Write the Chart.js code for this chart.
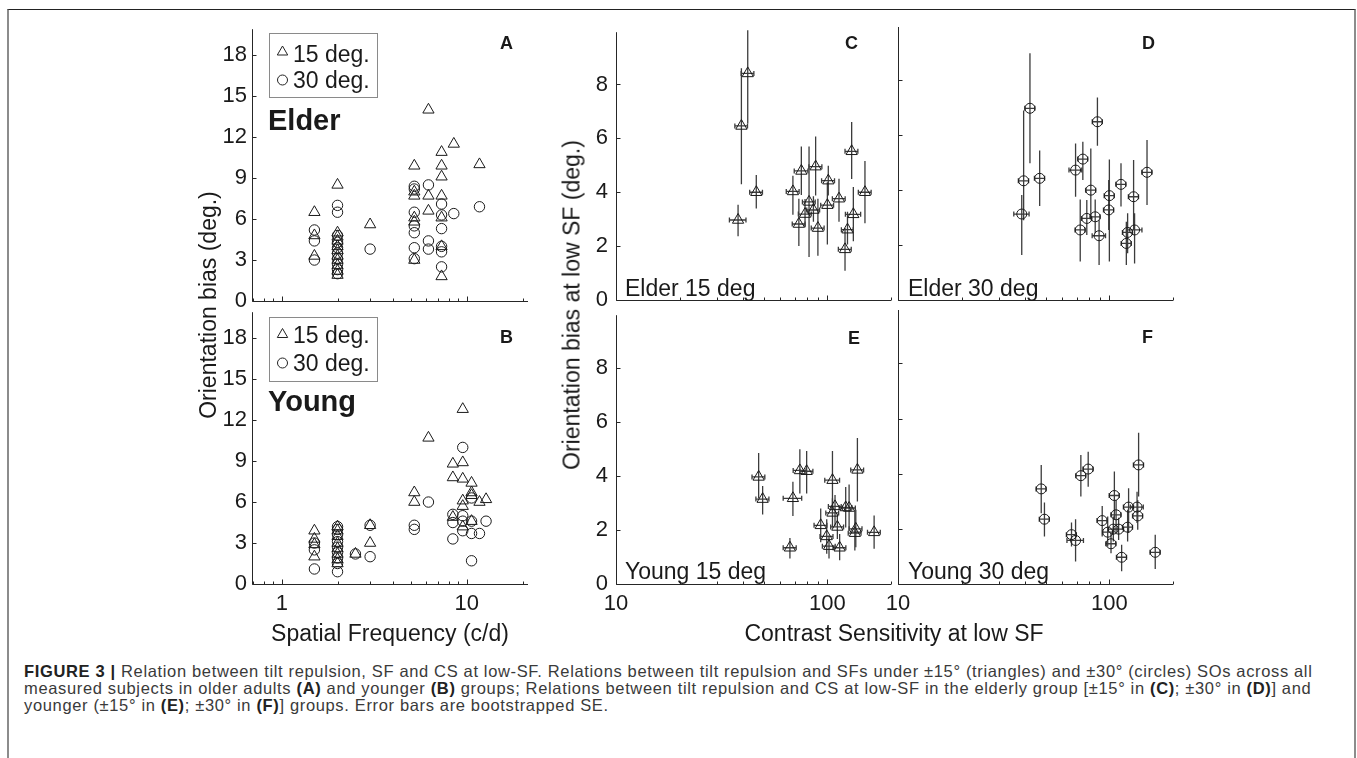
<!DOCTYPE html>
<html><head><meta charset="utf-8">
<script src="https://cdn.jsdelivr.net/npm/chart.js@4.4.1/dist/chart.umd.min.js"></script>
<style>
html,body{margin:0;padding:0;background:#fff;width:1357px;height:758px;overflow:hidden;font-family:"Liberation Sans",Arial,sans-serif;color:#1a1a1a;}
.t{position:absolute;white-space:nowrap;line-height:1;}
canvas{position:absolute;}
svg{position:absolute;overflow:visible;}
</style></head><body>
<div style="position:absolute;left:7px;top:9px;width:1345px;height:760px;border-left:2px solid #8c8c8c;border-right:2px solid #8c8c8c;border-top:1px solid #222;"></div>

<canvas id="cA"></canvas><canvas id="cB"></canvas><canvas id="cC"></canvas>
<canvas id="cD"></canvas><canvas id="cE"></canvas><canvas id="cF"></canvas>

<!-- legends -->
<div style="position:absolute;left:269px;top:33px;width:107px;height:63px;border:1px solid #8a8a8a;"></div>
<div style="position:absolute;left:269px;top:317px;width:107px;height:63px;border:1px solid #8a8a8a;"></div>
<svg style="left:0;top:0" width="1" height="1">
  <polygon points="282.5,46 277.3,55 287.7,55" fill="none" stroke="#222" stroke-width="1"/>
  <circle cx="282.5" cy="80" r="5" fill="none" stroke="#222" stroke-width="1"/>
  <polygon points="282.5,328.5 277.3,337.5 287.7,337.5" fill="none" stroke="#222" stroke-width="1"/>
  <circle cx="282.5" cy="363" r="5" fill="none" stroke="#222" stroke-width="1"/>
</svg>
<div class="t" style="left:293px;top:42.5px;font-size:23px;">15 deg.</div>
<div class="t" style="left:293px;top:68.5px;font-size:23px;">30 deg.</div>
<div class="t" style="left:293px;top:323.5px;font-size:23px;">15 deg.</div>
<div class="t" style="left:293px;top:352px;font-size:23px;">30 deg.</div>

<div class="t" style="left:268px;top:105.5px;font-size:29px;font-weight:bold;">Elder</div>
<div class="t" style="left:268px;top:387px;font-size:29px;font-weight:bold;">Young</div>

<div class="t" style="left:500px;top:34px;font-size:18px;font-weight:bold;">A</div>
<div class="t" style="left:500px;top:328px;font-size:18px;font-weight:bold;">B</div>
<div class="t" style="left:845px;top:34px;font-size:18px;font-weight:bold;">C</div>
<div class="t" style="left:1142px;top:34px;font-size:18px;font-weight:bold;">D</div>
<div class="t" style="left:848px;top:329px;font-size:18px;font-weight:bold;">E</div>
<div class="t" style="left:1142px;top:328px;font-size:18px;font-weight:bold;">F</div>

<div class="t" style="left:625px;top:276.5px;font-size:23px;">Elder 15 deg</div>
<div class="t" style="left:908px;top:276.5px;font-size:23px;">Elder 30 deg</div>
<div class="t" style="left:625px;top:559.5px;font-size:23px;">Young 15 deg</div>
<div class="t" style="left:908px;top:559.5px;font-size:23px;">Young 30 deg</div>

<div class="t" style="left:390px;top:621.5px;font-size:23px;transform:translateX(-50%);">Spatial Frequency (c/d)</div>
<div class="t" style="left:894px;top:621.5px;font-size:23px;transform:translateX(-50%);">Contrast Sensitivity at low SF</div>
<div class="t" style="left:208px;top:305px;font-size:23px;transform:translate(-50%,-50%) rotate(-90deg);">Orientation bias (deg.)</div>
<div class="t" style="left:572px;top:305px;font-size:23px;transform:translate(-50%,-50%) rotate(-90deg);">Orientation bias at low SF (deg.)</div>

<div style="position:absolute;left:24px;top:662.6px;font-size:16.5px;letter-spacing:0.65px;line-height:17.4px;color:#3a3a3a;white-space:nowrap;">
<b style="color:#222">FIGURE 3 |</b> Relation between tilt repulsion, SF and CS at low-SF. Relations between tilt repulsion and SFs under ±15° (triangles) and ±30° (circles) SOs across all<br>
measured subjects in older adults <b style="color:#222">(A)</b> and younger <b style="color:#222">(B)</b> groups; Relations between tilt repulsion and CS at low-SF in the elderly group [±15° in <b style="color:#222">(C)</b>; ±30° in <b style="color:#222">(D)</b>] and<br>
younger (±15° in <b style="color:#222">(E)</b>; ±30° in <b style="color:#222">(F)</b>] groups. Error bars are bootstrapped SE.
</div>

<script>
// ---------------- DATA ----------------
// Panel A (Elder): spatial frequency (c/d) vs orientation bias (deg.)
const A_tri_sf   = [1.5,1.5,1.5, 2,2,2,2,2,2,2,2,2,2,2, 3, 5.2,5.2,5.2,5.2,5.2,5.2, 6.2,6.2,6.2, 7.3,7.3,7.3,7.3,7.3,7.3,7.3, 8.5, 11.7];
const A_tri_bias = [6.5,4.8,3.3, 8.5,5.0,4.7,4.4,4.0,3.7,3.3,3.0,2.6,2.2,1.9, 5.6, 9.9,8.0,7.7,6.1,5.8,3.0, 14.0,7.7,6.6, 10.9,9.9,9.1,7.7,6.1,4.0,1.8, 11.5, 10.0];
const A_cir_sf   = [1.5,1.5,1.5, 2,2,2,2,2,2,2,2,2,2, 3, 5.2,5.2,5.2,5.2,5.2,5.2,5.2, 6.2,6.2,6.2, 7.3,7.3,7.3,7.3,7.3,7.3, 8.5, 11.7];
const A_cir_bias = [5.2,4.4,3.0, 7.0,6.5,4.8,4.3,3.9,3.5,3.1,2.7,2.3,2.0, 3.8, 8.4,8.2,6.5,5.5,5.0,3.9,3.1, 8.5,4.4,3.8, 7.1,6.3,5.3,4.0,3.6,2.5, 6.4, 6.9];
// Panel B (Young)
const B_tri_sf   = [1.5,1.5,1.5,1.5, 2,2,2,2,2,2,2,2, 2.5, 3,3, 5.2,5.2, 6.2, 8.4,8.4,8.4, 9.5,9.5,9.5,9.5,9.5,9.5, 10.6,10.6,10.6,10.6, 11.7, 12.7];
const B_tri_bias = [3.9,3.3,2.9,2.0, 4.2,3.9,3.5,3.0,2.6,2.2,1.8,1.5, 2.2, 4.3,3.0, 6.7,6.0, 10.7, 8.8,7.8,4.9, 12.8,8.9,7.7,6.1,5.7,4.2, 7.4,6.7,6.5,4.6, 6.0, 6.2];
const B_cir_sf   = [1.5,1.5,1.5, 2,2,2,2,2,2,2,2,2, 2.5, 3,3, 5.2,5.2, 6.2, 8.4,8.4,8.4, 9.5,9.5,9.5,9.5, 10.6,10.6,10.6,10.6, 11.7, 12.7];
const B_cir_bias = [3.0,2.5,1.1, 4.2,4.0,3.6,3.1,2.7,2.3,1.9,1.5,0.9, 2.2, 4.3,2.0, 4.3,4.0, 6.0, 5.1,4.5,3.3, 10.0,5.0,4.6,3.9, 6.3,4.6,3.7,1.7, 3.7, 4.6];

// Panel C (Elder 15 deg): contrast sensitivity vs bias, with bootstrapped SE
const C_cs   = [37.8,39.2,42.0,46.1,68.7,73.3,75.3,78.4,81.9,85.9,88.0,90.2,100,101,113.5,121.2,124.5,130.3,132.7,150.6];
const C_bias = [2.97,6.46,8.41,4.0,4.03,2.82,4.79,3.19,3.64,3.34,4.95,2.67,3.52,4.43,3.76,1.88,2.61,5.52,3.18,4.0];
const C_lo   = [2.37,4.3,6.55,3.4,3.16,2.0,3.9,2.7,1.6,2.9,3.88,1.64,2.06,3.88,2.9,1.09,2.06,4.49,2.18,2.85];
const C_hi   = [3.54,8.6,10.3,4.64,4.61,3.76,5.7,3.75,5.7,3.85,6.07,3.76,4.37,4.98,4.5,2.67,3.28,6.61,4.19,5.16];
const C_csErr= [3.4,2.7,2.9,3.2,4.8,5.1,5.6,5.5,5.7,6.0,6.2,6.3,7.0,7.1,7.9,8.5,8.0,9.1,11.0,10.5];
// Panel D (Elder 30 deg)
const D_cs   = [38.5,39.3,42.1,46.8,69.2,72.8,74.9,78.2,81.7,85.7,87.8,89.4,99.3,100,113.5,120.3,122,130.2,131.6,150.7];
const D_bias = [3.13,4.34,6.98,4.43,4.73,2.55,5.13,2.97,4.0,3.03,6.49,2.34,3.28,3.80,4.21,2.06,2.46,3.76,2.55,4.65];
const D_lo   = [1.64,2.9,4.98,3.42,3.76,1.40,4.37,2.37,3.03,2.43,5.62,1.27,2.55,1.40,3.4,1.27,1.70,2.55,1.33,3.46];
const D_hi   = [3.82,6.9,8.98,5.44,5.7,3.66,5.76,3.64,5.52,3.66,7.37,2.91,4.37,5.12,4.98,2.85,3.16,5.1,3.16,5.83];
const D_csErr= [3.2,2.2,2.3,2.6,4.8,4.0,4.1,4.3,4.5,4.7,4.8,6.5,5.5,5.5,6.2,6.6,6.7,7.2,11.0,8.3];
// Panel E (Young 15 deg)
const E_cs   = [47.3,49.4,66.5,68.7,74.1,79.8,93.0,99.3,101.8,105.7,105.7,108.7,111.5,114.3,122.1,126.7,134.9,136.3,138.7,166.4];
const E_bias = [3.96,3.14,1.34,3.17,4.2,4.17,2.17,1.76,1.40,3.84,2.63,2.87,2.11,1.34,2.83,2.81,1.88,2.04,4.22,1.91];
const E_lo   = [3.17,2.57,0.94,2.51,3.35,3.35,1.54,1.12,0.94,2.81,2.09,2.15,1.66,0.88,2.09,1.97,1.24,1.36,3.05,1.30];
const E_hi   = [4.84,3.62,1.70,3.78,4.98,4.92,2.79,2.39,1.79,4.92,3.17,3.29,2.57,1.85,3.59,3.68,2.69,2.75,5.40,2.53];
const E_csErr= [3.3,3.5,4.7,6.9,5.2,5.6,6.5,7.0,7.1,8.5,7.4,7.6,7.8,8.0,8.5,8.9,9.4,9.5,9.7,11.6];
// Panel F (Young 30 deg)
const F_cs   = [47.6,49.3,66.2,69.2,73.3,79.4,92.5,98.2,101.8,105.6,107.6,104.4,110.6,114.3,122,123.3,135.2,136.2,137.5,164.8];
const F_bias = [3.45,2.35,1.79,1.58,3.93,4.17,2.30,1.88,1.46,3.21,2.51,1.99,1.99,0.97,2.06,2.79,2.79,2.47,4.32,1.15];
const F_lo   = [2.57,1.72,1.36,0.82,3.17,3.53,1.72,1.36,1.12,2.33,1.85,1.54,1.6,0.46,1.54,1.85,2.21,1.97,3.17,0.54];
const F_hi   = [4.32,2.96,2.23,2.35,4.68,4.80,2.83,2.45,1.85,4.08,3.05,2.45,2.4,1.42,2.69,3.47,3.35,3.05,5.49,1.79];
const F_csErr= [2.6,2.7,3.6,6.2,4.0,4.4,5.1,5.4,5.6,5.8,5.9,5.7,6.1,6.3,6.7,6.8,9.5,7.5,7.6,9.1];

// tick values
const sfLabels = [1, 10];
const sfMinor  = [0.7,0.8,0.9,2,3,4,5,6,7,8,9,20];
const csLabels = [10, 100];
const csMinor  = [20,30,40,50,60,70,80,90,200];
const biasTicksAB = [0,3,6,9,12,15,18];
const biasTicksCF = [0,2,4,6,8];

// ---------------- DRAWING ----------------
const FONT = "'Liberation Sans', Arial, sans-serif";
const INK = '#1a1a1a';

function zip(xs, ys) { return xs.map((x, i) => ({x: x, y: ys[i]})); }

function axesPlugin(xMajor, xMinor, yTicks) {
  return {
    id: 'matlabAxes',
    afterDatasetsDraw(chart) {
      const ctx = chart.ctx, a = chart.chartArea, x = chart.scales.x, y = chart.scales.y;
      ctx.save();
      ctx.strokeStyle = '#262626'; ctx.lineWidth = 1;
      ctx.beginPath();
      const L = Math.round(a.left) + 0.5, B = Math.round(a.bottom) + 0.5;
      ctx.moveTo(L, a.top); ctx.lineTo(L, B); ctx.lineTo(a.right, B);
      yTicks.forEach(v => { const p = Math.round(y.getPixelForValue(v)) + 0.5; ctx.moveTo(L, p); ctx.lineTo(L + 4, p); });
      xMajor.forEach(v => { const p = Math.round(x.getPixelForValue(v)) + 0.5; ctx.moveTo(p, B); ctx.lineTo(p, B - 5); });
      xMinor.forEach(v => { const p = Math.round(x.getPixelForValue(v)) + 0.5; ctx.moveTo(p, B); ctx.lineTo(p, B - 3); });
      ctx.stroke();
      ctx.restore();
    }
  };
}

const errPlugin = {
  id: 'errorBars',
  beforeDatasetsDraw(chart) {
    const ctx = chart.ctx, a = chart.chartArea, xs = chart.scales.x, ys = chart.scales.y;
    ctx.save();
    ctx.beginPath(); ctx.rect(a.left, a.top - 2, a.right - a.left, a.bottom - a.top + 2); ctx.clip();
    ctx.strokeStyle = '#3c3c3c'; ctx.lineWidth = 1.3;
    chart.data.datasets.forEach(ds => {
      if (!ds.errLo) return;
      ds.data.forEach((d, i) => {
        const px = xs.getPixelForValue(d.x), py = ys.getPixelForValue(d.y);
        const y1 = ys.getPixelForValue(ds.errLo[i]), y2 = ys.getPixelForValue(ds.errHi[i]);
        const x1 = xs.getPixelForValue(d.x - ds.errX[i]), x2 = xs.getPixelForValue(d.x + ds.errX[i]);
        ctx.beginPath();
        ctx.moveTo(px, y1); ctx.lineTo(px, y2);
        ctx.moveTo(x1, py); ctx.lineTo(x2, py);
        ctx.moveTo(x1, py - 2.5); ctx.lineTo(x1, py + 2.5);
        ctx.moveTo(x2, py - 2.5); ctx.lineTo(x2, py + 2.5);
        ctx.stroke();
      });
    });
    ctx.restore();
  }
};

function triSet(data, extra) {
  return Object.assign({data: data, pointStyle: 'triangle', pointRadius: 6.5, borderColor: INK, borderWidth: 1,
    backgroundColor: 'rgba(0,0,0,0)', pointHoverRadius: 6.5}, extra || {});
}
function cirSet(data, extra) {
  return Object.assign({data: data, pointStyle: 'circle', pointRadius: 5.2, borderColor: INK, borderWidth: 1,
    backgroundColor: 'rgba(0,0,0,0)', pointHoverRadius: 5.2}, extra || {});
}

function panel(id, area, o) {
  const YW = 60, PT = 16, PR = 14, XH = 44;
  const cv = document.getElementById(id);
  const w = YW + (area.r - area.l) + PR, h = PT + (area.b - area.t) + XH;
  cv.width = w; cv.height = h;
  cv.style.left = (area.l - YW) + 'px'; cv.style.top = (area.t - PT) + 'px';
  cv.style.width = w + 'px'; cv.style.height = h + 'px';
  return new Chart(cv, {
    type: 'scatter',
    data: {datasets: o.datasets},
    options: {
      responsive: false, animation: false, devicePixelRatio: 1, events: [],
      layout: {padding: {top: PT, right: PR, left: 0, bottom: 0}},
      plugins: {legend: {display: false}, tooltip: {enabled: false}},
      scales: {
        x: {type: 'logarithmic', min: o.xMin, max: o.xMax, bounds: 'data',
            grid: {display: false, drawTicks: false}, border: {display: false},
            ticks: {display: o.showX, font: {family: FONT, size: 22}, color: INK, padding: 7,
                    maxRotation: 0, minRotation: 0, autoSkip: false, callback: v => String(v)},
            afterBuildTicks: s => { s.ticks = o.xLabels.map(v => ({value: v})); },
            afterFit: s => { s.height = XH; }},
        y: {type: 'linear', min: 0, max: o.yMax, bounds: 'data',
            grid: {display: false, drawTicks: false}, border: {display: false},
            ticks: {display: o.showY, font: {family: FONT, size: 22}, color: INK, padding: o.yPad,
                    autoSkip: false, callback: v => String(v)},
            afterBuildTicks: s => { s.ticks = o.yTicks.map(v => ({value: v})); },
            afterFit: s => { s.width = YW; }}
      }
    },
    plugins: [axesPlugin(o.xLabels, o.xMinor, o.yTicks), errPlugin]
  });
}

const sfAxis = {xMin: 0.69, xMax: 21.4, xLabels: sfLabels, xMinor: sfMinor, yMax: 19.9, yTicks: biasTicksAB, showY: true, yPad: 5};
const csAxis = {xMin: 10, xMax: 200, xLabels: csLabels, xMinor: csMinor, yMax: 9.94, yTicks: biasTicksCF, yPad: 8};

panel('cA', {l: 252, t: 27, r: 528, b: 301}, Object.assign({}, sfAxis, {showX: false,
  datasets: [triSet(zip(A_tri_sf, A_tri_bias)), cirSet(zip(A_cir_sf, A_cir_bias))]}));
panel('cB', {l: 252, t: 310, r: 528, b: 584}, Object.assign({}, sfAxis, {showX: true,
  datasets: [triSet(zip(B_tri_sf, B_tri_bias)), cirSet(zip(B_cir_sf, B_cir_bias))]}));

panel('cC', {l: 616, t: 27, r: 891, b: 300}, Object.assign({}, csAxis, {showX: false, showY: true,
  datasets: [triSet(zip(C_cs, C_bias), {errLo: C_lo, errHi: C_hi, errX: C_csErr})]}));
panel('cD', {l: 898, t: 27, r: 1173, b: 300}, Object.assign({}, csAxis, {showX: false, showY: false,
  datasets: [cirSet(zip(D_cs, D_bias), {errLo: D_lo, errHi: D_hi, errX: D_csErr, pointRadius: 5})]}));
panel('cE', {l: 616, t: 310, r: 891, b: 584}, Object.assign({}, csAxis, {showX: true, showY: true,
  datasets: [triSet(zip(E_cs, E_bias), {errLo: E_lo, errHi: E_hi, errX: E_csErr})]}));
panel('cF', {l: 898, t: 310, r: 1173, b: 584}, Object.assign({}, csAxis, {showX: true, showY: false,
  datasets: [cirSet(zip(F_cs, F_bias), {errLo: F_lo, errHi: F_hi, errX: F_csErr, pointRadius: 5})]}));
</script>
</body></html>
